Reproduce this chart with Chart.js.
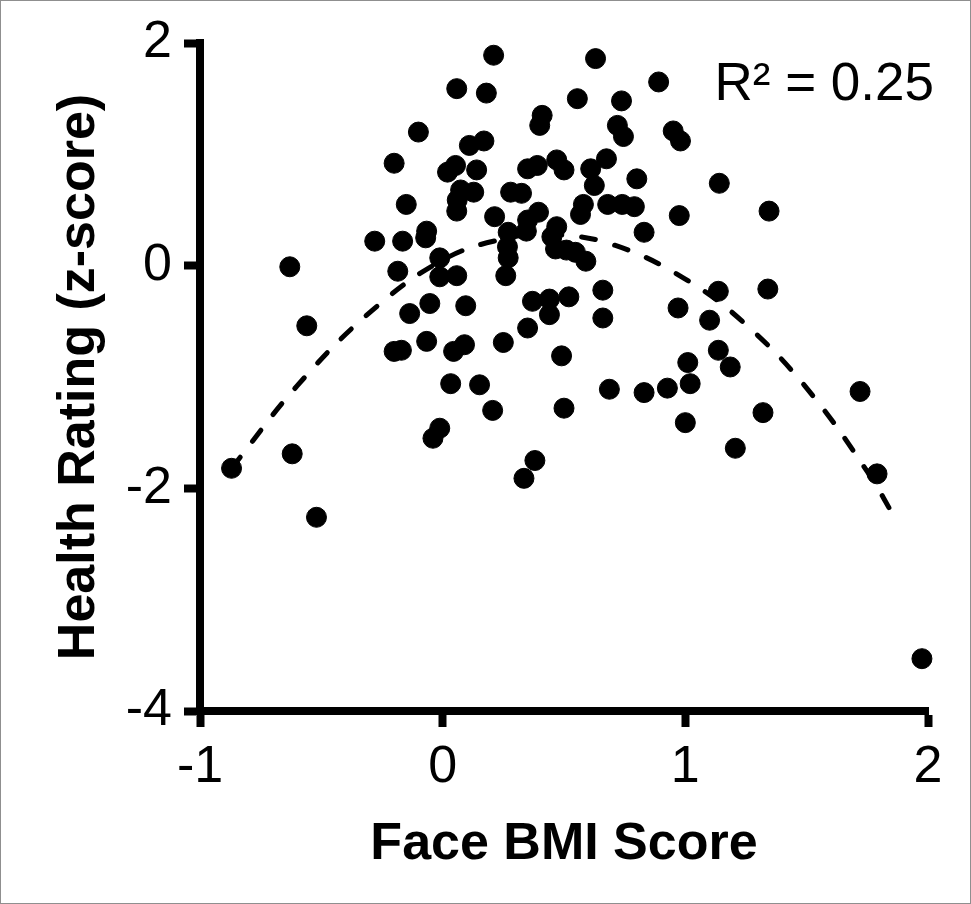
<!DOCTYPE html>
<html>
<head>
<meta charset="utf-8">
<script src="https://cdn.jsdelivr.net/npm/chart.js@4.4.1/dist/chart.umd.min.js"></script>
<style>
  body { margin: 0; background: #fff; }
  canvas { display: block; }
</style>
</head>
<body>
<canvas id="bmiChart" width="971" height="904"></canvas>
<script>
// Face BMI score (x) and health rating z-score (y), one entry per face
const bmiScores = [
    -0.87, -0.63, -0.56, -0.62, -0.52, -0.28, -0.20, -0.10, -0.15, -0.165,
    -0.185, -0.136, -0.17, -0.20, -0.066, -0.053, -0.066, -0.07, -0.012, -0.012,
    -0.012, -0.04, 0.033, 0.045, 0.09, 0.095, 0.058, 0.058, 0.053, 0.02,
    0.14, 0.11, 0.17, 0.18, 0.21, 0.074, 0.128, 0.06, 0.058, 0.152,
    0.206, 0.25, 0.214, 0.28, 0.325, 0.27, 0.267, 0.27, 0.26, 0.35,
    0.39, 0.41, 0.40, 0.395, 0.35, 0.345, 0.47, 0.50, 0.47, 0.45,
    0.465, 0.51, 0.547, 0.59, 0.37, 0.44, 0.52, 0.44, 0.35, 0.49,
    0.50, 0.38, 0.335, 0.555, 0.61, 0.675, 0.625, 0.58, 0.568, 0.63,
    0.72, 0.745, 0.737, 0.68, 0.74, 0.79, 0.80, 0.83, 0.66, 0.66,
    0.687, 0.83, 0.89, 0.95, 0.98, 0.975, 0.97, 0.926, 1.02, 1.01,
    1.00, 1.10, 1.136, 1.185, 1.206, 1.14, 1.136, 1.345, 1.34, 1.32,
    1.72, 1.79, 1.975
];
const healthRatings = [
    -1.82, -0.01, -0.54, -1.69, -2.26, 0.22, 0.92, 1.20, 0.55, 0.22,
    -0.05, -0.43, -0.76, -0.77, -0.68, -0.34, 0.31, 0.25, 0.07, -0.10,
    -1.46, -1.55, -1.06, -0.77, -0.71, -0.36, -0.09, 1.59, 0.90, 0.84,
    0.86, 1.08, 1.12, 1.55, 1.89, 0.68, 0.66, 0.59, 0.49, -1.07,
    -1.30, -0.69, 0.44, 0.66, 0.65, 0.30, 0.17, 0.07, -0.09, 0.87,
    0.90, 1.35, 1.26, 0.48, 0.41, 0.31, 0.95, 0.86, 0.35, 0.26,
    0.15, 0.14, 0.12, 0.04, -0.32, -0.30, -0.28, -0.44, -0.56, -0.81,
    -1.28, -1.75, -1.91, 1.50, 0.87, 0.96, 0.72, 0.55, 0.46, 1.86,
    1.26, 1.16, 1.48, 0.55, 0.55, 0.53, 0.78, 0.30, -0.22, -0.47,
    -1.11, -1.14, 1.65, 1.21, 1.12, 0.45, -0.38, -1.10, -1.06, -0.87,
    -1.41, -0.49, -0.76, -0.91, -1.64, 0.74, -0.23, 0.49, -0.21, -1.32,
    -1.13, -1.87, -3.53
];

// Dashed trend curve
const trendX = [-0.87, -0.6, -0.3, 0.0, 0.25, 0.45, 0.7, 1.0, 1.25, 1.5, 1.75, 1.88];
const trendY = [-1.82, -1.08, -0.42, 0.05, 0.24, 0.28, 0.19, -0.12, -0.53, -1.1, -1.85, -2.33];

const xTickValues = [-1, 0, 1, 2];
const yTickValues = [-4, -2, 0, 2];
const r2Label = 'R\u00b2 = 0.25';

const FONT = "'Liberation Sans', Arial, sans-serif";

const toXY = (xs, ys) => xs.map((x, i) => ({ x: x, y: ys[i] }));

// Frame around the picture and the R² note
const extrasPlugin = {
    id: 'extras',
    afterDraw(chart) {
        const ctx = chart.ctx;
        const area = chart.chartArea;
        ctx.save();
        ctx.fillStyle = '#000';
        ctx.font = '53px ' + FONT;
        ctx.textAlign = 'right';
        ctx.textBaseline = 'alphabetic';
        ctx.fillText(r2Label, area.right + 6, area.top + 57);
        ctx.strokeStyle = '#8f8f8f';
        ctx.lineWidth = 1;
        ctx.strokeRect(0.5, 0.5, chart.width - 1, chart.height - 1);
        ctx.restore();
    }
};

const axisStyle = {
    grid: {
        display: true,
        drawOnChartArea: false,
        drawTicks: true,
        tickLength: 16,
        tickWidth: 8,
        tickColor: '#000'
    },
    border: { display: true, width: 8, color: '#000' }
};

// keep the tick labels from pushing the plot area in
const noLabelPadding = axis => {
    axis.paddingTop = 0;
    axis.paddingBottom = 0;
    axis.paddingLeft = 0;
    axis.paddingRight = 0;
};

new Chart(document.getElementById('bmiChart').getContext('2d'), {
    type: 'scatter',
    data: {
        datasets: [{
            type: 'line',
            label: 'Trend',
            data: toXY(trendX, trendY),
            borderColor: '#000',
            borderWidth: 5,
            borderDash: [14, 20],
            borderCapStyle: 'round',
            pointRadius: 0,
            fill: false,
            tension: 0.4
        }, {
            label: 'Faces',
            data: toXY(bmiScores, healthRatings),
            backgroundColor: '#000',
            borderColor: '#000',
            borderWidth: 1,
            pointRadius: 10,
            clip: false
        }]
    },
    options: {
        responsive: false,
        animation: false,
        layout: { padding: { top: 43, right: 43, left: 0, bottom: 0 } },
        plugins: {
            legend: { display: false },
            tooltip: { enabled: false }
        },
        scales: {
            x: {
                type: 'linear',
                min: -1,
                max: 2,
                afterBuildTicks: axis => { axis.ticks = xTickValues.map(v => ({ value: v })); },
                afterFit: axis => { axis.height = 193; noLabelPadding(axis); },
                ticks: {
                    color: '#000',
                    padding: 9,
                    font: { family: FONT, size: 52, lineHeight: 1.2 }
                },
                title: {
                    display: true,
                    text: 'Face BMI Score',
                    color: '#000',
                    padding: { top: 0, bottom: 28 },
                    font: { family: FONT, size: 52, weight: 'bold', lineHeight: 1.2 }
                },
                ...axisStyle
            },
            y: {
                type: 'linear',
                min: -4,
                max: 2,
                afterBuildTicks: axis => { axis.ticks = yTickValues.map(v => ({ value: v })); },
                afterFit: axis => { axis.width = 200; noLabelPadding(axis); },
                ticks: {
                    color: '#000',
                    padding: 12,
                    font: { family: FONT, size: 52, lineHeight: 1.2 }
                },
                title: {
                    display: true,
                    text: 'Health Rating (z-score)',
                    color: '#000',
                    padding: { top: 48, bottom: 0 },
                    font: { family: FONT, size: 52, weight: 'bold', lineHeight: 1.2 }
                },
                ...axisStyle
            }
        }
    },
    plugins: [extrasPlugin]
});
</script>
</body>
</html>
